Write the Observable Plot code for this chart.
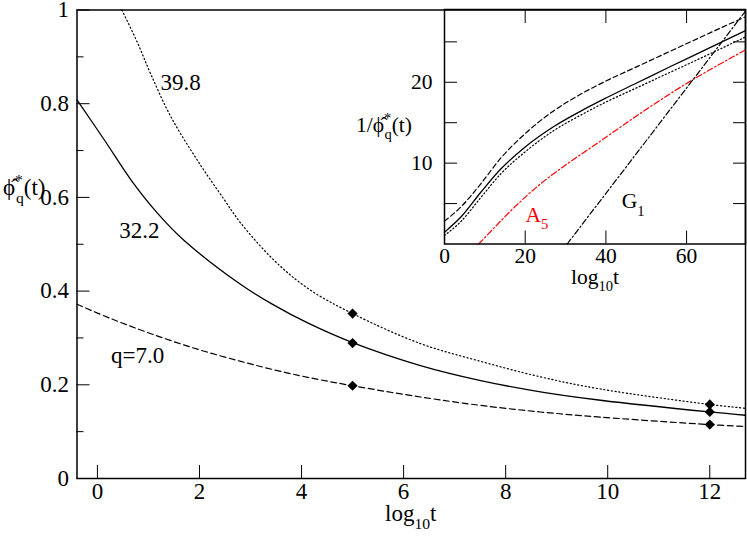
<!DOCTYPE html>
<html><head><meta charset="utf-8">
<script src="https://cdn.jsdelivr.net/npm/d3@7"></script>
<script src="https://cdn.jsdelivr.net/npm/@observablehq/plot@0.6"></script>
<style>
body{margin:0;background:#fff;}
#wrap{position:relative;width:747px;height:536px;}
#wrap svg{position:absolute;top:0;overflow:visible;}
#wrap svg, #wrap text{font-family:"Liberation Serif","Times New Roman",Times,"DejaVu Serif",serif !important;}
</style></head><body><div id="wrap"></div>
<script>
const FONT = "'Liberation Serif', 'Times New Roman', Times, 'DejaVu Serif', serif";
const MAIN_FS = 23;
const INSET_FS = 21.5;

// ---------- main chart data ----------
const xTicks = [0, 2, 4, 6, 8, 10, 12];
const yTicks = [0, 0.2, 0.4, 0.6, 0.8, 1];
const yMinorTicks = [0.1, 0.3, 0.5, 0.7, 0.9];

const tQ70 = [-0.4, 0.27, 1.05, 1.96, 2.81, 3.46, 4.12, 5, 6.33, 7.51, 8.68, 9.86, 12, 12.7];
const phiQ70 = [0.372, 0.341, 0.309, 0.276, 0.250, 0.232, 0.216, 0.198, 0.174, 0.156, 0.142, 0.131, 0.115, 0.111];

const tQ322 = [-0.4, 0.14, 0.66, 1.18, 1.7, 2.81, 3.46, 4.12, 5, 6.33, 7.51, 8.68, 9.86, 12, 12.7];
const phiQ322 = [0.808, 0.722, 0.637, 0.566, 0.508, 0.414, 0.370, 0.332, 0.290, 0.241, 0.209, 0.185, 0.167, 0.142, 0.135];

const tQ398 = [0.48, 0.79, 1.05, 1.44, 1.96, 2.48, 2.81, 3.46, 4.12, 5, 6.33, 7.51, 8.68, 9.86, 12, 12.7];
const phiQ398 = [1.0, 0.929, 0.862, 0.772, 0.679, 0.596, 0.545, 0.466, 0.406, 0.352, 0.288, 0.250, 0.217, 0.191, 0.158, 0.150];

const markT = [5, 5, 5, 12, 12, 12];
const markPhi = [0.352, 0.289, 0.198, 0.158, 0.142, 0.115];

const curveLabels = ["39.8", "32.2", "q=7.0"];
const curveLabelT = [1.63, 0.82, 0.79];
const curveLabelPhi = [0.846, 0.53, 0.263];

// ---------- inset data ----------
const insetXTicks = [0, 20, 40, 60];
const insetYTicks = [5, 10, 15, 20, 25];

const tIn = [0, 4, 9, 14, 20, 27, 34, 40, 48, 56, 64, 74.6];
const invQ70 = [2.83, 4.55, 7.45, 10.65, 13.65, 16.45, 18.6, 20.15, 22.0, 23.85, 25.7, 28.1];
const invQ322 = [1.46, 3.3, 6.4, 9.3, 12.0, 14.5, 16.5, 18.05, 20.0, 21.95, 23.85, 26.4];
const invQ398 = [1.05, 2.75, 5.75, 8.7, 11.4, 14.0, 16.0, 17.55, 19.4, 21.25, 23.1, 25.6];

const tA5 = [8.5, 20, 40, 60, 74.6];
const invA5 = [0, 5.8, 13.2, 19.85, 24.0];
const tG1 = [30.4, 74.6];
const invG1 = [0, 28.8];

// ---------- helpers ----------
const zip = (ts, vs) => ts.map((t, i) => ({t, v: vs[i]}));
function richText(svg, x, y, parts, {anchor = "start", size = 21, fill = "#000"} = {}) {
  const t = d3.select(svg).append("text")
    .attr("x", x).attr("y", y).attr("text-anchor", anchor)
    .attr("font-family", FONT).attr("font-size", size).attr("fill", fill);
  let cur = 0;
  for (const [s, kind, dx] of parts) {
    const target = kind === "sub" ? 0.33 * size : kind === "sup" ? -0.42 * size : 0;
    const ts = t.append("tspan").text(s);
    if (target - cur !== 0) ts.attr("dy", target - cur);
    if (kind !== "base") ts.attr("font-size", size * 0.68);
    if (dx) ts.attr("dx", dx);
    cur = target;
  }
  return t;
}
const phiLabel = (prefix) => [
  ...(prefix ? [[prefix, "base"]] : []),
  ["\u03D5\u0302", "base"], ["*", "sup"], ["q", "sub", -7], ["(t)", "base"]
];

// ---------- main plot ----------
const main = Plot.plot({
  width: 747, height: 536,
  marginLeft: 76.5, marginRight: 2, marginTop: 9.5, marginBottom: 58,
  style: {fontFamily: FONT, fontSize: MAIN_FS + "px", color: "#000", background: "transparent", overflow: "visible"},
  x: {domain: [-0.4, 12.7]},
  y: {domain: [0, 1]},
  marks: [
    Plot.line(zip(tQ70, phiQ70), {x: "t", y: "v", stroke: "#000", strokeWidth: 1.2, strokeDasharray: "6,3.5", curve: "catmull-rom"}),
    Plot.line(zip(tQ322, phiQ322), {x: "t", y: "v", stroke: "#000", strokeWidth: 1.3, curve: "catmull-rom"}),
    Plot.line(zip(tQ398, phiQ398), {x: "t", y: "v", stroke: "#000", strokeWidth: 1.2, strokeDasharray: "1.2,2.6", curve: "catmull-rom"}),
    Plot.dot(zip(markT, markPhi), {x: "t", y: "v", symbol: "diamond2", r: 4.6, fill: "#000", stroke: "none"}),
    Plot.text(curveLabels.map((s, i) => ({s, t: curveLabelT[i], v: curveLabelPhi[i]})), {x: "t", y: "v", text: "s", fontSize: MAIN_FS, fill: "#000"}),
    Plot.axisX({ticks: xTicks, tickSize: -13, tickPadding: 17, label: null, tickFormat: d => String(d)}),
    Plot.axisY({ticks: yTicks, tickSize: -13, tickPadding: 21, label: null, tickFormat: d => String(d)}),
    Plot.axisY({ticks: yMinorTicks, tickSize: -7, tickPadding: 0, label: null, tickFormat: () => ""}),
    Plot.frame({stroke: "#000", strokeWidth: 1.5})
  ]
});
main.style.left = "0px";
document.getElementById("wrap").appendChild(main);
{
  const xr = main.scale("x").range;
  richText(main, (xr[0] + xr[1]) / 2, 521, [["log", "base"], ["10", "sub"], ["t", "base"]], {anchor: "middle", size: MAIN_FS});
  richText(main, 3, 195, phiLabel(null), {size: MAIN_FS});
}

// ---------- inset plot ----------
const inset = Plot.plot({
  width: 407, height: 300,
  marginLeft: 104, marginRight: 2, marginTop: 9, marginBottom: 56.5,
  style: {fontFamily: FONT, fontSize: INSET_FS + "px", color: "#000", background: "transparent", overflow: "visible"},
  x: {domain: [0, 74.6]},
  y: {domain: [0, 29]},
  marks: [
    Plot.line(zip(tIn, invQ70), {x: "t", y: "v", stroke: "#000", strokeWidth: 1.2, strokeDasharray: "5,3", curve: "monotone-x"}),
    Plot.line(zip(tIn, invQ322), {x: "t", y: "v", stroke: "#000", strokeWidth: 1.3, curve: "monotone-x"}),
    Plot.line(zip(tIn, invQ398), {x: "t", y: "v", stroke: "#000", strokeWidth: 1.2, strokeDasharray: "1.2,2.4", curve: "monotone-x"}),
    Plot.line(zip(tA5, invA5), {x: "t", y: "v", stroke: "#ff0000", strokeWidth: 1.2, strokeDasharray: "6,2.5,1.5,2.5", curve: "monotone-x"}),
    Plot.line(zip(tG1, invG1), {x: "t", y: "v", stroke: "#000", strokeWidth: 1.2, strokeDasharray: "6,2.5,1.5,2.5"}),
    Plot.axisX({ticks: insetXTicks, tickSize: -13, tickPadding: 17, label: null, tickFormat: d => String(d)}),
    Plot.axisX({anchor: "top", ticks: insetXTicks, tickSize: -13, tickPadding: 0, label: null, tickFormat: () => ""}),
    Plot.axisY({ticks: insetYTicks, tickSize: -13, tickPadding: 25, label: null, tickFormat: d => d % 10 === 0 ? String(d) : ""}),
    Plot.axisY({anchor: "right", ticks: insetYTicks, tickSize: -13, tickPadding: 0, label: null, tickFormat: () => ""}),
    Plot.frame({stroke: "#000", strokeWidth: 1.5})
  ]
});
inset.style.left = "340px";
document.getElementById("wrap").appendChild(inset);
{
  const sx = inset.scale("x"), sy = inset.scale("y");
  const xr = sx.range;
  richText(inset, (xr[0] + xr[1]) / 2 + 0.5, 284, [["log", "base"], ["10", "sub"], ["t", "base"]], {anchor: "middle", size: INSET_FS});
  richText(inset, 16, 132, phiLabel("1/"), {size: INSET_FS});
  richText(inset, sx.apply(23.0), sy.apply(3.5) + 7, [["A", "base"], ["5", "sub"]], {anchor: "middle", fill: "#ff0000", size: INSET_FS});
  richText(inset, sx.apply(46.9), sy.apply(5.2) + 7, [["G", "base"], ["1", "sub"]], {anchor: "middle", size: INSET_FS});
}
</script>
</body></html>
